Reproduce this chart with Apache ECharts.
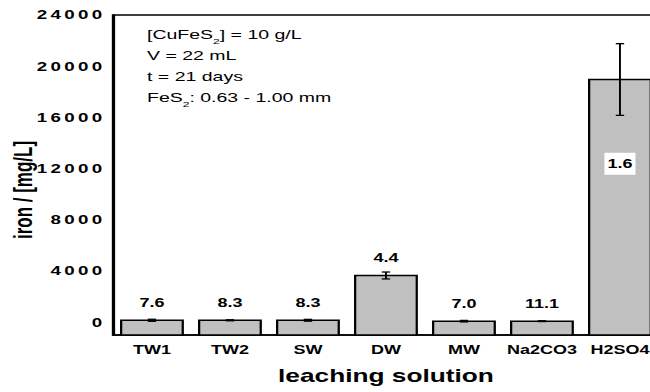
<!DOCTYPE html>
<html>
<head>
<meta charset="utf-8">
<script src="https://cdn.jsdelivr.net/npm/echarts@6/dist/echarts.min.js"></script>
<style>
  html, body { margin: 0; padding: 0; overflow: hidden; background: #fff; }
  /* the original figure is drawn with horizontally stretched lettering */
  #iron-chart { width: 440px; height: 392px; transform: scaleX(1.5); transform-origin: 0 0; }
  /* wider spacing of the y tick numbers */
  #iron-chart text[style*="12.5px"] { letter-spacing: 2.2px; }
</style>
</head>
<body>
<div id="iron-chart"></div>
<script>
  const categories = ['TW1', 'TW2', 'SW', 'DW', 'MW', 'Na2CO3', 'H2SO4']
  const ironMean = [150, 150, 150, 3650, 80, 80, 18960]
  const ironErr = [80, 40, 70, 270, 60, 30, 2800]
  const phLabels = ['7.6', '8.3', '8.3', '4.4', '7.0', '11.1', '1.6']
  const yTicks = [0, 4000, 8000, 12000, 16000, 20000, 24000]

  const font = "'Liberation Sans', Arial, sans-serif"
  const chart = echarts.init(document.getElementById('iron-chart'), null, { renderer: 'svg' })

  const barData = categories.map(function (c, i) {
    return [i, ironMean[i], ironErr[i]]
  })

  chart.setOption({
    animation: false,
    grid: [
      { left: 75.3, top: 15, width: 364, height: 320, show: true, borderColor: '#000', borderWidth: 1.5 },
      { left: 75.3, top: 15, width: 364, height: 307.2 }
    ],
    xAxis: [{
      type: 'category',
      gridIndex: 0,
      data: categories,
      axisLine: { onZero: false, lineStyle: { color: '#000', width: 1.5 } },
      axisTick: { inside: true, length: 3, lineStyle: { color: '#000' } },
      axisLabel: { interval: 0, color: '#000', fontFamily: font, fontWeight: 'bold', fontSize: 12, margin: 9 },
      name: 'leaching solution',
      nameLocation: 'middle',
      nameGap: 32,
      nameTextStyle: { color: '#000', fontFamily: font, fontWeight: 'bold', fontSize: 17.5 }
    }, {
      type: 'category',
      gridIndex: 1,
      data: categories,
      show: false
    }],
    yAxis: [{
      type: 'value',
      gridIndex: 0,
      min: -1000,
      max: 24000,
      interval: 1000,
      axisLine: { show: true, onZero: false, lineStyle: { color: '#000', width: 1.5 } },
      axisTick: { inside: true, length: 2, lineStyle: { color: '#000' } },
      axisLabel: { show: false },
      splitLine: { show: false }
    }, {
      type: 'value',
      gridIndex: 1,
      min: yTicks[0],
      max: yTicks[yTicks.length - 1],
      interval: 4000,
      axisLine: { show: false },
      axisTick: { inside: true, length: 4, lineStyle: { color: '#000' } },
      axisLabel: {
        color: '#000', fontFamily: font, fontWeight: 'bold', fontSize: 12.5, margin: 5,
        formatter: function (v) { return String(v) }
      },
      splitLine: { show: false }
    }],
    graphic: [{
      type: 'text',
      left: 98,
      top: 24,
      style: {
        text: '[CuFeS{sub|2}] = 10 g/L\nV = 22 mL\nt = 21 days\nFeS{sub|2}: 0.63 - 1.00 mm',
        font: '13px ' + font,
        lineHeight: 21,
        fill: '#000',
        rich: {
          sub: { fontSize: 8, lineHeight: 12, verticalAlign: 'bottom', fontFamily: font }
        }
      }
    }, {
      type: 'text',
      x: 15.3,
      y: 190,
      rotation: Math.PI / 2,
      style: {
        text: 'iron / [mg/L]',
        font: 'bold 17px ' + font,
        fill: '#000',
        align: 'center',
        verticalAlign: 'middle'
      }
    }],
    series: [{
      name: 'iron',
      type: 'custom',
      xAxisIndex: 0,
      yAxisIndex: 0,
      data: barData,
      encode: { x: 0, y: 1 },
      z: 2,
      renderItem: function (params, api) {
        const i = api.value(0)
        const top = api.coord([i, api.value(1)])
        const bottom = api.coord([i, -1000])
        const w = api.size([1, 0])[0] * 0.79
        const inside = i === categories.length - 1
        return {
          type: 'rect',
          shape: { x: top[0] - w / 2, y: top[1], width: w, height: bottom[1] - top[1] },
          style: { fill: '#c0c0c0', stroke: '#000', lineWidth: 1.5 },
          textContent: {
            style: {
              text: phLabels[i],
              font: 'bold 12px ' + font,
              fill: '#000',
              backgroundColor: inside ? '#fff' : null,
              padding: inside ? [5, 2] : 0
            }
          },
          textConfig: inside
            ? { position: 'insideTop', distance: 74 }
            : { position: 'top', distance: 11 }
        }
      }
    }, {
      name: 'error',
      type: 'custom',
      xAxisIndex: 0,
      yAxisIndex: 0,
      data: barData,
      encode: { x: 0, y: 1 },
      z: 3,
      renderItem: function (params, api) {
        const i = api.value(0)
        const hi = api.coord([i, api.value(1) + api.value(2)])
        const lo = api.coord([i, api.value(1) - api.value(2)])
        const cap = 2.8
        const st = { stroke: '#000', lineWidth: 1.3 }
        return {
          type: 'group',
          children: [
            { type: 'line', shape: { x1: hi[0], y1: hi[1], x2: lo[0], y2: lo[1] }, style: st },
            { type: 'line', shape: { x1: hi[0] - cap, y1: hi[1], x2: hi[0] + cap, y2: hi[1] }, style: st },
            { type: 'line', shape: { x1: lo[0] - cap, y1: lo[1], x2: lo[0] + cap, y2: lo[1] }, style: st }
          ]
        }
      }
    }]
  })
</script>
</body>
</html>
